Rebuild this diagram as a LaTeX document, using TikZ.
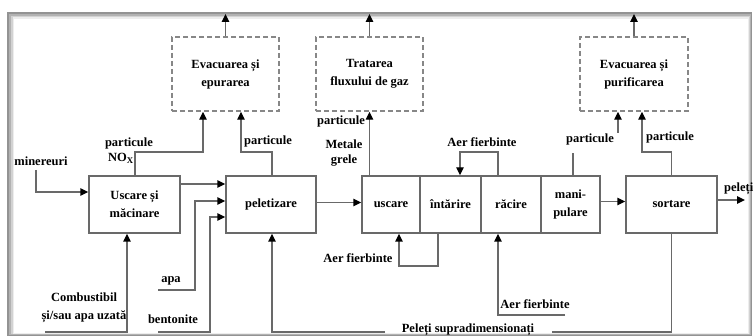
\documentclass[tikz,border=0pt]{standalone}
\usepackage{fontspec}
\setmainfont{Liberation Serif}
\usetikzlibrary{arrows.meta}
\definecolor{ln}{RGB}{105,105,105}
\definecolor{dsh}{RGB}{135,135,135}
\begin{document}
\begin{tikzpicture}[x=1pt,y=-1pt,
  every node/.style={font=\bfseries\fontsize{12.5}{18}\selectfont, inner sep=0pt},
  lbl/.style={align=center},
  procbox/.style={draw=ln, line width=1.4pt, minimum height=57pt, align=center},
  dashbox/.style={draw=dsh, line width=1.5pt, dash pattern=on 5pt off 3pt, minimum width=107pt, minimum height=74pt, align=center},
  conn/.style={draw=ln, line width=1.4pt},
  arr/.style={conn, -{Triangle[length=8pt,width=7.5pt,color=black]}}]
\useasboundingbox (0,0) rectangle (754,336);
% frame with shadow
\fill[gray!85] (7,12) rectangle (752,336);
\fill[gray!60] (9,14) rectangle (751,335);
\fill[gray!35] (11,16) rectangle (750,334);
\fill[gray!14] (12.5,17.5) rectangle (749,333.5);
\fill[white] (14,19) rectangle (748,333);
% process boxes
\node[procbox, minimum width=91pt] (usc) at (134.5,204.5) {Uscare și\\măcinare};
\node[procbox, minimum width=90pt] (pel) at (271,204.5) {peletizare};
\node[procbox, minimum width=58pt] (us) at (391,204.5) {uscare};
\node[procbox, minimum width=61pt] (int) at (450.5,204.5) {întărire};
\node[procbox, minimum width=60pt] (rac) at (511,204.5) {răcire};
\node[procbox, minimum width=59pt] (man) at (570.5,204.5) {mani-\\pulare};
\node[procbox, minimum width=91pt] (sort) at (671.5,204.5) {sortare};
% dashed boxes
\node[dashbox] (ev1) at (225.5,74) {Evacuarea și\\epurarea};
\node[dashbox] (trat) at (369.5,74) {Tratarea\\fluxului de gaz};
\node[dashbox, minimum width=108pt] (ev2) at (634,74) {Evacuarea și\\purificarea};
% labels
\node[lbl] (lmin) at (41,161) {minereuri};
\node[lbl] (lp1) at (129,143) {particule};
\node[lbl] (lnox) at (121,158) {NO$_{\mathbf{X}}$};
\node[lbl] (lp2) at (268,141) {particule};
\node[lbl] (lp3) at (341,121) {particule};
\node[lbl, font=\bfseries\fontsize{12.5}{14.5}\selectfont] (lmet) at (344,153) {Metale\\grele};
\node[lbl] (laer1) at (482,142) {Aer fierbinte};
\node[lbl] (laer2) at (358,258) {Aer fierbinte};
\node[lbl] (laer3) at (535,304) {Aer fierbinte};
\node[lbl] (lp4) at (590,139) {particule};
\node[lbl] (lp5) at (670,137) {particule};
\node[lbl, anchor=west] (lpel) at (724,189) {peleți};
\node[lbl] (lapa) at (171,281) {apa};
\node[lbl] (lben) at (173,319) {bentonite};
\node[lbl] (lcomb) at (84,308) {Combustibil\\și/sau apa uzată};
\node[lbl] (lsupra) at (468,330) {Peleți supradimensionați};
% coordinates
\coordinate (top) at (0,14);
\coordinate (c1) at (135,152);
\coordinate (c2) at (203,152);
\coordinate (c3) at (241,152);
\coordinate (c4) at (272,152);
\coordinate (a1) at (498,152);
\coordinate (a2) at (460,152);
\coordinate (b1) at (438,266);
\coordinate (b2) at (399,266);
\coordinate (b3) at (565,315);
\coordinate (b4) at (498,315);
\coordinate (m1) at (36,170);
\coordinate (p1) at (158,290);
\coordinate (p2) at (195,290);
\coordinate (q1) at (158,332);
\coordinate (q2) at (210,332);
\coordinate (r1) at (45,332);
\coordinate (r2) at (127,332);
\coordinate (s1) at (272,332);
\coordinate (s2) at (385,332);
\coordinate (s3) at (552,332);
\coordinate (s4) at (671.5,332);
\coordinate (d1) at (573,153);
\coordinate (d2) at (618,133);
\coordinate (e2) at (642,152);
\coordinate (out) at (745,200);
% outputs of dashed boxes
\draw[arr] (ev1.north) -- (ev1.north |- top);
\draw[arr] (trat.north) -- (trat.north |- top);
\draw[arr] (ev2.north) -- (ev2.north |- top);
% connectors
\draw[arr] (m1) |- ([yshift=12.5pt]usc.west);
\draw[arr] (usc.north -| c1) -- (c1) -- (c2) -- (ev1.south -| c2);
\draw[arr] (pel.north -| c4) -- (c4) -- (c3) -- (ev1.south -| c3);
\draw[arr] (us.north -| trat.south) -- (trat.south);
\draw[arr] (rac.north -| a1) -- (a1) -- (a2) -- (int.north -| a2);
\draw[arr] (int.south -| b1) -- (b1) -- (b2) -- (us.south -| b2);
\draw[arr] (b3) -- (b4) -- (rac.south -| b4);
\draw[arr] ([yshift=20.5pt]usc.east) -- ([yshift=20.5pt]pel.west);
\draw[arr] (p1) -- (p2) |- ([yshift=3.5pt]pel.west);
\draw[arr] (q1) -- (q2) |- ([yshift=-12.5pt]pel.west);
\draw[arr] (r1) -- (r2) -- (usc.south -| r2);
\draw[arr] (s2) -- (s1) -- (pel.south -| s1);
\draw[conn] (sort.south) -- (s4) -- (s3);
\draw[arr] ([yshift=2pt]pel.east) -- ([yshift=2pt]us.west);
\draw[arr] ([yshift=3pt]man.east) -- ([yshift=3pt]sort.west);
\draw[arr] (sort.east |- out) -- (out);
\draw[conn] (man.north -| d1) -- (d1);
\draw[arr] (d2) -- (ev2.south -| d2);
\draw[arr] (sort.north) -- (sort.north |- e2) -- (e2) -- (ev2.south -| e2);
\end{tikzpicture}
\end{document}
